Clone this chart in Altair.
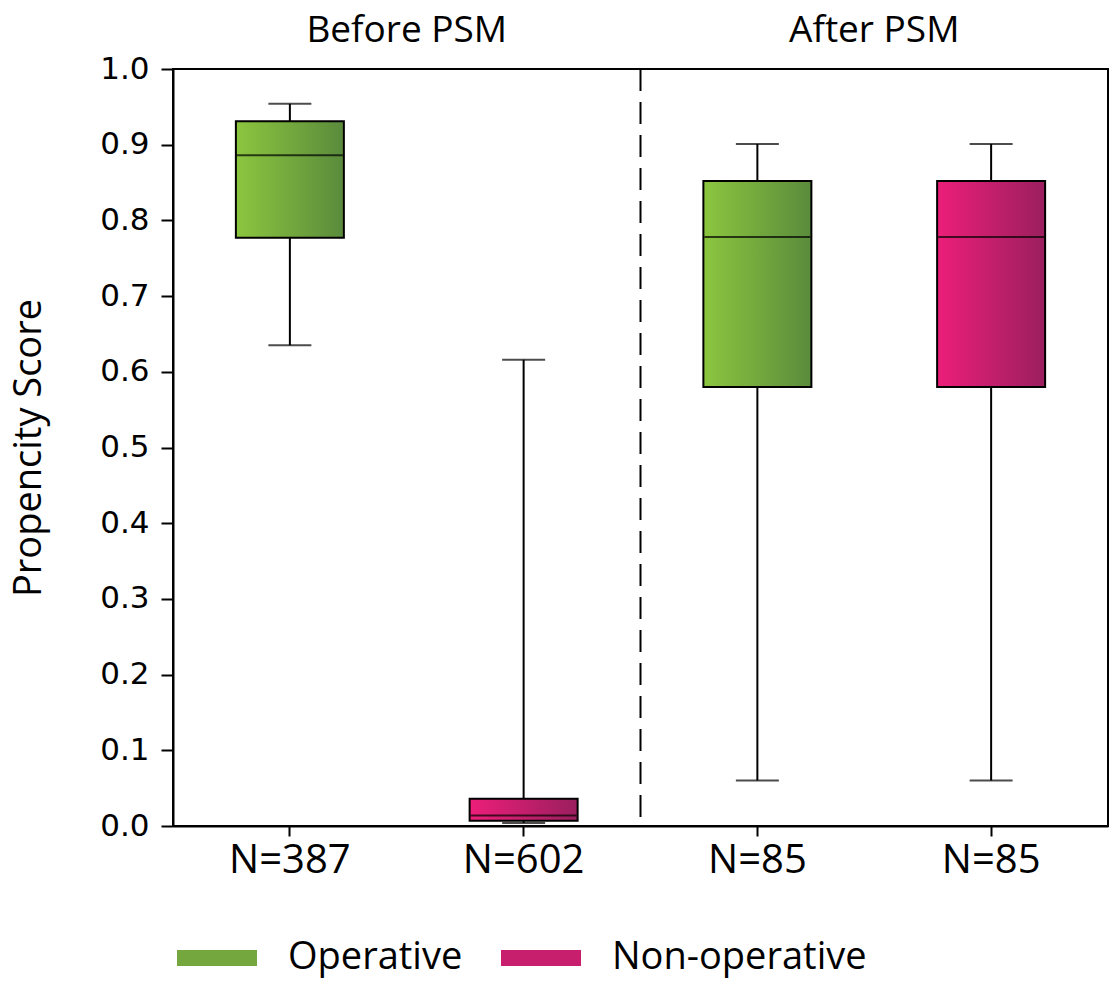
import altair as alt
import pandas as pd

# ---- data ----
categories = ["N=387", "N=602", "N=85 ", "N=85"]
groups = ["Operative", "Non-operative", "Operative", "Non-operative"]
periods = ["Before PSM", "Before PSM", "After PSM", "After PSM"]
whisker_low = [0.635, 0.004, 0.060, 0.060]
q1 = [0.777, 0.007, 0.580, 0.580]
median = [0.886, 0.014, 0.778, 0.778]
q3 = [0.931, 0.036, 0.852, 0.852]
whisker_high = [0.954, 0.616, 0.901, 0.901]
period_labels = ["Before PSM", "After PSM"]
legend_labels = ["Operative", "Non-operative"]
y_ticks = [0.0, 0.1, 0.2, 0.3, 0.4, 0.5, 0.6, 0.7, 0.8, 0.9, 1.0]

df = pd.DataFrame({
    "cat": categories, "group": groups, "period": periods,
    "lo": whisker_low, "q1": q1, "med": median, "q3": q3, "hi": whisker_high,
})
pdf = pd.DataFrame({"period": period_labels})

GREEN_L, GREEN_R = "#8cc63f", "#5a8b3c"
PINK_L, PINK_R = "#ec1e79", "#9b1f5f"
green_grad = alt.Gradient(gradient="linear", x1=0, x2=1, y1=0, y2=0,
                          stops=[alt.GradientStop(color=GREEN_L, offset=0),
                                 alt.GradientStop(color=GREEN_R, offset=1)])
pink_grad = alt.Gradient(gradient="linear", x1=0, x2=1, y1=0, y2=0,
                         stops=[alt.GradientStop(color=PINK_L, offset=0),
                                alt.GradientStop(color=PINK_R, offset=1)])

LABEL_FONT = "Open Sans"
NUM_FONT = "DejaVu Sans"
TXT = 38

x_scale = alt.Scale(paddingInner=0, paddingOuter=0)
x_axis = alt.Axis(labelFont=LABEL_FONT, labelFontSize=40, labelColor="black",
                  labelAngle=0, tickSize=10, tickWidth=2, tickColor="black",
                  domainColor="black", domainWidth=2, labelPadding=4, grid=False)
x_noaxis = alt.X("cat:N", sort=categories, scale=x_scale, axis=None)

y_scale = alt.Scale(domain=[0, 1], nice=False, zero=True)
y_axis = alt.Axis(values=y_ticks, format=".1f", labelFont=NUM_FONT, labelFontSize=31,
                  labelColor="black", tickSize=12, tickWidth=2, tickColor="black",
                  domainColor="black", domainWidth=2, labelPadding=12, grid=False,
                  title="Propencity Score", titleFont=LABEL_FONT, titleFontSize=TXT,
                  titleFontWeight="normal", titleColor="black", titlePadding=51)

base = alt.Chart(df)

whiskers = base.mark_rule(color="black", strokeWidth=2).encode(
    x=alt.X("cat:N", sort=categories, title=None, scale=x_scale, axis=x_axis),
    y=alt.Y("lo:Q", scale=y_scale, axis=y_axis),
    y2="hi:Q",
)

legend_boxes = base.mark_bar(width=alt.RelativeBandSize(0.462)).encode(
    x=x_noaxis,
    y=alt.Y("q1:Q", scale=y_scale),
    y2="q3:Q",
    fill=alt.Fill("group:N", scale=alt.Scale(domain=legend_labels,
                                               range=["#74a83e", "#c71f6d"]),
                  legend=alt.Legend(title=None, orient="none", direction="horizontal",
                                    legendX=4, legendY=849,
                                    symbolType="M-1,-0.2H1V0.2H-1Z", symbolSize=6400,
                                    symbolStrokeWidth=0, labelFont=LABEL_FONT,
                                    labelFontSize=TXT, labelColor="black", labelLimit=0,
                                    labelOffset=31, columnPadding=38, gridAlign="none")),
)

boxes = base.mark_bar(width=alt.RelativeBandSize(0.462), stroke="black", strokeWidth=2).encode(
    x=x_noaxis,
    y=alt.Y("q1:Q", scale=y_scale),
    y2="q3:Q",
    fill=alt.condition(alt.datum.group == "Operative", alt.value(green_grad), alt.value(pink_grad)),
)

medians = base.mark_tick(color="black", thickness=2, size=106, orient="horizontal").encode(
    x=x_noaxis,
    y=alt.Y("med:Q", scale=y_scale),
)
caps_hi = base.mark_tick(color="black", thickness=2, size=43, orient="horizontal").encode(
    x=x_noaxis,
    y=alt.Y("hi:Q", scale=y_scale),
)
caps_lo = base.mark_tick(color="black", thickness=2, size=43, orient="horizontal").encode(
    x=x_noaxis,
    y=alt.Y("lo:Q", scale=y_scale),
)

pscale = alt.Scale(domain=period_labels, paddingInner=0, paddingOuter=0)
headers = alt.Chart(pdf).mark_text(font=LABEL_FONT, fontSize=37, color="black",
                                   baseline="middle").encode(
    x=alt.X("period:N", sort=period_labels, scale=pscale, axis=None),
    y=alt.value(-38),
    text="period:N",
)
divider = alt.Chart(pdf).transform_filter(alt.datum.period == "After PSM").mark_rule(
    color="black", strokeWidth=2, strokeDash=[22, 11]).encode(
    x=alt.X("period:N", sort=period_labels, scale=pscale, axis=None, bandPosition=0),
    y=alt.value(0),
    y2=alt.value(757),
)

chart = alt.layer(
    whiskers, legend_boxes, boxes, medians, caps_hi, caps_lo, headers, divider
).resolve_scale(x="independent").properties(
    width=935, height=757,
    autosize=alt.AutoSizeParams(type="none"),
    padding={"left": 173, "top": 69, "right": 2, "bottom": 160},
    background="white",
).configure_view(stroke="black", strokeWidth=2)

chart.save("out.html", embed_options={"renderer": "svg", "actions": False})
